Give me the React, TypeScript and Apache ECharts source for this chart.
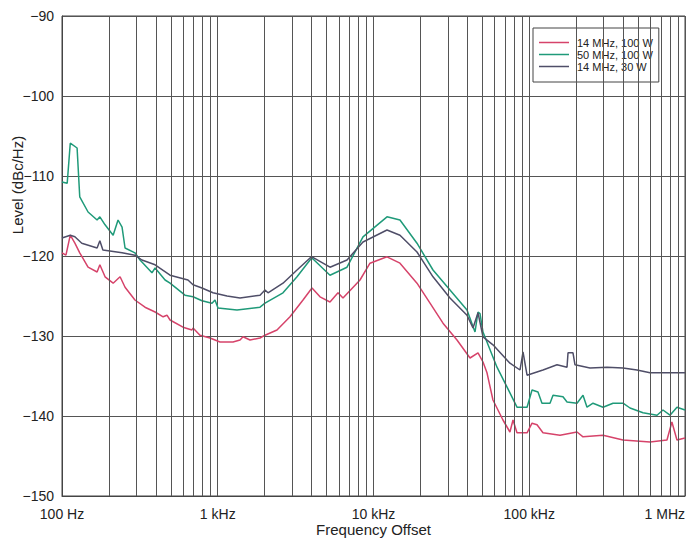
import React, { useEffect, useRef } from "react";
import * as echarts from "echarts";

const seriesNames = ["14 MHz, 100 W", "50 MHz, 100 W", "14 MHz, 30 W"];
const seriesColors = ["#d6436a", "#1f9a79", "#4f4e68"];

const redFreq = [100, 106, 113, 121, 130, 147, 168, 175, 189, 213, 236, 254, 294, 341, 396, 446, 472, 494, 598, 683, 694, 769, 892, 1034, 1253, 1390, 1453, 1611, 1868, 2011, 2401, 2910, 3527, 4028, 4536, 5256, 5916, 6370, 8190, 9495, 12210, 14790, 19020, 23060, 27940, 34360, 41650, 46890, 50470, 53550, 58480, 67790, 75160, 78650, 83400, 96800, 104200, 112200, 122500, 157500, 202600, 221400, 297700, 400000, 596000, 766000, 824000, 888000, 1000000];
const redLevel = [-119.6, -119.9, -117.4, -118.4, -119.6, -121.4, -122.0, -121.1, -122.6, -123.4, -122.6, -123.9, -125.5, -126.4, -127.0, -127.6, -127.4, -128.0, -128.9, -129.25, -129.0, -129.9, -130.25, -130.75, -130.75, -130.5, -130.1, -130.5, -130.25, -129.9, -129.25, -127.6, -125.5, -124.0, -125.1, -125.75, -124.6, -125.25, -123.0, -120.9, -120.1, -120.9, -123.4, -125.9, -128.4, -130.5, -132.75, -132.1, -133.25, -134.6, -138.0, -140.5, -142.0, -140.5, -142.1, -142.1, -140.9, -141.1, -142.1, -142.4, -142.0, -142.6, -142.4, -143.0, -143.25, -143.0, -140.75, -143.0, -142.75];

const greenFreq = [100, 108, 113, 125, 130, 147, 168, 175, 189, 213, 229, 243, 254, 294, 317, 378, 396, 459, 494, 616, 694, 792, 919, 960, 1004, 1329, 1868, 2011, 2624, 3228, 3912, 4028, 5256, 6759, 8561, 12210, 14790, 19020, 24100, 30980, 39840, 44850, 46890, 48290, 50470, 62080, 75160, 83400, 96800, 104200, 113800, 120700, 135900, 142100, 164700, 174800, 202600, 221400, 234900, 256700, 297700, 344900, 400000, 443600, 537500, 661200, 722200, 801100, 888000, 1000000];
const greenLevel = [-110.75, -110.9, -105.9, -106.5, -112.6, -114.5, -115.5, -115.1, -116.1, -117.4, -115.5, -116.4, -119.0, -119.6, -120.5, -122.1, -121.5, -123.0, -123.4, -124.9, -125.1, -125.6, -125.9, -125.5, -126.5, -126.75, -126.4, -125.9, -124.6, -122.6, -120.5, -120.25, -122.4, -121.4, -117.6, -115.1, -115.5, -118.4, -121.75, -124.25, -126.75, -129.5, -127.0, -127.2, -129.5, -133.9, -137.1, -138.9, -138.9, -136.75, -137.0, -138.4, -138.4, -137.4, -137.6, -138.25, -138.4, -137.4, -138.9, -138.4, -138.9, -138.4, -138.4, -139.0, -139.6, -139.9, -139.25, -139.9, -138.9, -139.25];

const darkFreq = [100, 113, 121, 134, 168, 175, 183, 243, 294, 326, 396, 494, 644, 694, 792, 932, 1147, 1390, 1868, 2011, 2102, 2624, 3228, 3912, 4028, 5256, 6759, 8561, 12210, 14790, 19020, 24100, 30980, 39840, 43540, 46890, 50470, 58480, 75160, 87210, 91180, 96800, 122500, 150800, 174800, 177400, 190900, 196700, 245500, 315600, 400000, 491800, 596000, 766000, 1000000];
const darkLevel = [-117.75, -117.4, -117.6, -118.4, -119.0, -118.1, -119.25, -119.6, -119.9, -120.5, -121.1, -122.4, -123.0, -123.6, -124.0, -124.6, -125.0, -125.25, -124.9, -124.25, -124.6, -123.4, -121.75, -120.25, -120.1, -121.4, -120.5, -118.25, -116.75, -117.4, -119.5, -122.6, -125.25, -127.4, -129.0, -127.1, -130.1, -131.1, -133.4, -134.25, -132.0, -134.9, -134.25, -133.6, -133.9, -132.1, -132.1, -133.6, -134.0, -133.9, -134.0, -134.25, -134.6, -134.6, -134.6];

const xLabels: Record<number, string> = {
  100: "100 Hz",
  1000: "1 kHz",
  10000: "10 kHz",
  100000: "100 kHz",
  1000000: "1 MHz",
};

const FONT = "'Liberation Sans', Arial, Helvetica, sans-serif";

function zip(f: number[], l: number[]) {
  return f.map((v, i) => [v, l[i]]);
}

export default function App() {
  const ref = useRef<HTMLDivElement>(null);
  useEffect(() => {
    if (!ref.current) return;
    const chart = echarts.init(ref.current, undefined, { renderer: "svg" });
    const minorLines: { xAxis: number }[] = [];
    for (const d of [100, 1000, 10000, 100000]) {
      for (let k = 2; k <= 9; k++) minorLines.push({ xAxis: d * k });
    }
    const datasets = [zip(redFreq, redLevel), zip(greenFreq, greenLevel), zip(darkFreq, darkLevel)];
    chart.setOption({
      animation: false,
      backgroundColor: "#ffffff",
      grid: {
        left: 62,
        top: 16,
        right: 8,
        bottom: 44,
        outerBoundsMode: "none",
        containLabel: false,
        show: true,
        borderColor: "#444",
        borderWidth: 1,
        backgroundColor: "transparent",
      },
      xAxis: {
        type: "log",
        logBase: 10,
        min: 100,
        max: 1000000,
        name: "Frequency Offset",
        nameLocation: "middle",
        nameGap: 25,
        nameMoveOverlap: false,
        nameTextStyle: { fontFamily: FONT, fontSize: 15, color: "#222", lineHeight: 16 },
        axisLine: { show: true, lineStyle: { color: "#444", width: 1 } },
        axisTick: { show: false },
        axisLabel: {
          fontFamily: FONT,
          fontSize: 14,
          color: "#222",
          margin: 11,
          alignMaxLabel: "right",
          formatter: (v: number) => xLabels[Math.round(v)] ?? "",
        },
        splitLine: { show: true, lineStyle: { color: "#555", width: 1 } },
      },
      yAxis: {
        type: "value",
        min: -150,
        max: -90,
        interval: 10,
        axisLine: { show: true, lineStyle: { color: "#444", width: 1 } },
        axisTick: { show: false },
        axisLabel: {
          fontFamily: FONT,
          fontSize: 14,
          color: "#222",
          margin: 8,
          formatter: (v: number) => (v < 0 ? "\u2212" + Math.abs(v) : String(v)),
        },
        splitLine: { show: true, lineStyle: { color: "#555", width: 1 } },
      },
      legend: {
        data: seriesNames,
        orient: "vertical",
        left: 533,
        top: 28,
        padding: [9, 6, 10, 6],
        icon: "rect",
        itemWidth: 30,
        itemHeight: 1.5,
        itemGap: 1,
        backgroundColor: "#ffffff",
        borderColor: "#444",
        borderWidth: 1,
        borderRadius: 0,
        textStyle: { fontFamily: FONT, fontSize: 11, color: "#222", lineHeight: 11, padding: [0, 0, 0, 3] },
      },
      graphic: [
        {
          type: "text",
          x: 17,
          y: 185,
          rotation: Math.PI / 2,
          style: {
            text: "Level (dBc/Hz)",
            fontFamily: FONT,
            fontSize: 15,
            fill: "#222",
            textAlign: "center",
            textVerticalAlign: "middle",
          },
        },
      ],
      series: [
        {
          type: "line",
          name: "grid",
          data: [],
          silent: true,
          z: 1,
          markLine: {
            silent: true,
            symbol: ["none", "none"],
            label: { show: false },
            lineStyle: { color: "#555", width: 1, type: "solid" },
            emphasis: { disabled: true },
            animation: false,
            data: minorLines,
          },
        },
        ...seriesNames.map((name, i) => ({
          type: "line",
          name,
          data: datasets[i],
          showSymbol: false,
          symbol: "none",
          smooth: false,
          z: 3,
          color: seriesColors[i],
          lineStyle: { color: seriesColors[i], width: 1.5 },
          emphasis: { disabled: true },
        })),
      ],
    });
    return () => chart.dispose();
  }, []);
  return <div ref={ref} style={{ position: "fixed", left: 0, top: 0, width: 693, height: 540 }} />;
}
